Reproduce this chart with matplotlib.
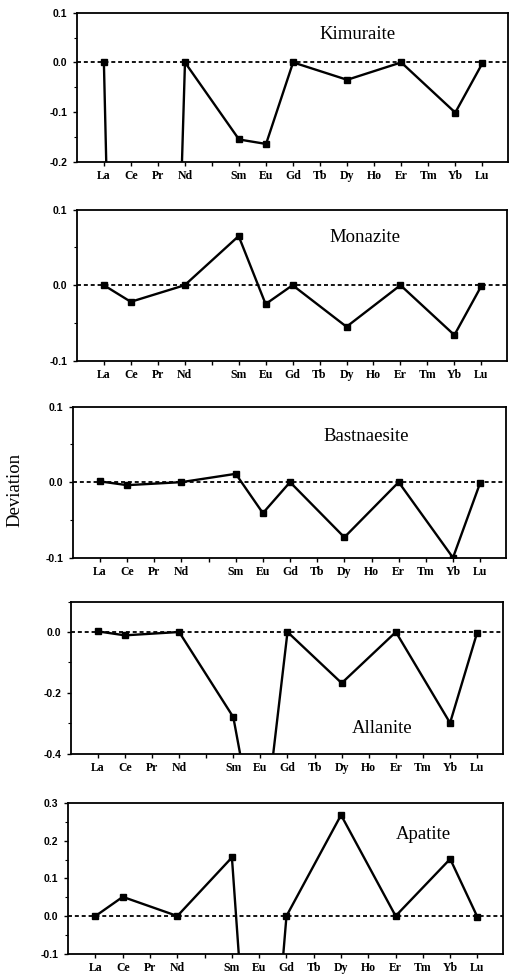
import numpy as np
import matplotlib.pyplot as plt
from matplotlib.ticker import MultipleLocator

# Rare earth elements, atomic numbers 57..71 (Pm has no label)
ELEMENTS = ["La", "Ce", "Pr", "Nd", "", "Sm", "Eu", "Gd", "Tb", "Dy", "Ho", "Er", "Tm", "Yb", "Lu"]
Z = np.arange(57, 72)

# measured points (atomic number, deviation); off-scale values run out of the frame
kim_z = [57, 58, 59, 60, 62, 63, 64, 66, 68, 70, 71]
kim_dev = [0.0, -2.3, -1.8, 0.0, -0.155, -0.164, 0.0, -0.035, 0.0, -0.101, -0.002]

mon_z = [57, 58, 60, 62, 63, 64, 66, 68, 70, 71]
mon_dev = [0.0, -0.022, 0.0, 0.065, -0.025, 0.0, -0.055, 0.0, -0.066, -0.001]

bas_z = [57, 58, 60, 62, 63, 64, 66, 68, 70, 71]
bas_dev = [0.001, -0.004, 0.0, 0.011, -0.041, 0.0, -0.073, 0.0, -0.1, -0.001]

all_z = [57, 58, 60, 62, 63, 64, 66, 68, 70, 71]
all_dev = [0.002, -0.011, 0.0, -0.28, -0.76, 0.0, -0.168, 0.0, -0.299, -0.002]

apa_z = [57, 58, 60, 62, 63, 64, 66, 68, 70, 71]
apa_dev = [0.0, 0.051, 0.0, 0.156, -0.87, 0.0, 0.269, 0.0, 0.152, -0.003]

PANELS = [
    ("Kimuraite", kim_z, kim_dev, (-0.2, 0.1), [-0.2, -0.1, 0.0, 0.1], (66.4, 0.056)),
    ("Monazite", mon_z, mon_dev, (-0.1, 0.1), [-0.1, 0.0, 0.1], (66.7, 0.063)),
    ("Bastnaesite", bas_z, bas_dev, (-0.1, 0.1), [-0.1, 0.0, 0.1], (66.8, 0.06)),
    ("Allanite", all_z, all_dev, (-0.4, 0.1), [-0.4, -0.2, 0.0], (67.5, -0.318)),
    ("Apatite", apa_z, apa_dev, (-0.1, 0.3), [-0.1, 0.0, 0.1, 0.2, 0.3], (69.0, 0.218)),
]

# axes boxes in figure fraction [left, bottom, width, height]
BOXES = [
    [0.151, 0.834, 0.847, 0.153],
    [0.151, 0.630, 0.845, 0.155],
    [0.143, 0.428, 0.851, 0.155],
    [0.139, 0.227, 0.849, 0.156],
    [0.134, 0.022, 0.855, 0.154],
]
MINOR_STEP = [0.05, 0.05, 0.05, 0.1, 0.05]

fig = plt.figure(figsize=(5.09, 9.75), dpi=100)
xtick_font = {"family": ["Liberation Serif", "DejaVu Serif"], "weight": "bold", "size": 8.5}
ytick_font = {"family": ["Liberation Sans", "DejaVu Sans"], "weight": "bold", "size": 7.5}

for (name, zs, dev, ylim, yticks, txt), box, mstep in zip(PANELS, BOXES, MINOR_STEP):
    ax = fig.add_axes(box)
    ax.axhline(0.0, color="black", linestyle=(0, (2.2, 1.6)), linewidth=1.3, zorder=1)
    ax.plot(zs, dev, color="black", linewidth=1.7, marker="s", markersize=4.2, zorder=3)
    ax.set_xlim(56.0, 71.95)
    ax.set_ylim(*ylim)
    ax.set_xticks(Z)
    ax.set_xticklabels(ELEMENTS, fontdict=xtick_font)
    ax.set_yticks(yticks)
    ax.set_yticklabels([f"{v:.1f}" for v in yticks], fontdict=ytick_font)
    ax.yaxis.set_minor_locator(MultipleLocator(mstep))
    ax.tick_params(axis="x", direction="out", length=3, width=1.0, pad=3)
    ax.tick_params(axis="y", direction="out", length=3, width=1.0, pad=4)
    ax.tick_params(axis="y", which="minor", direction="out", length=2, width=0.8)
    for sp in ax.spines.values():
        sp.set_linewidth(1.3)
    ax.text(txt[0], txt[1], name, ha="center", va="center",
            fontfamily="Liberation Serif", fontsize=13.5)

fig.text(0.03, 0.497, "Deviation", rotation=90, ha="center", va="center",
         fontfamily="Liberation Serif", fontsize=13.5)

fig.savefig("out.png", dpi=100)
